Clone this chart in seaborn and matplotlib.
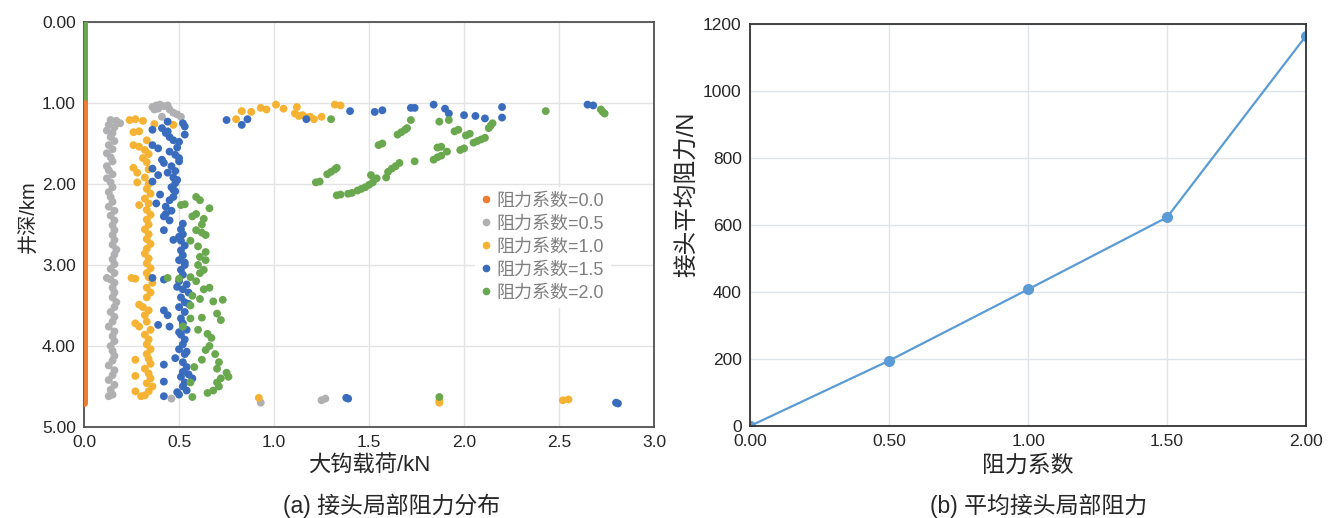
import pandas as pd
import matplotlib
matplotlib.use("Agg")
from matplotlib import pyplot as plt
from matplotlib.lines import Line2D
import seaborn as sns

"""
Joint local resistance: (a) scatter of hook load vs well depth for several
resistance coefficients, (b) mean joint resistance vs coefficient.
"""

# ---- (a) data: hook load (kN) and depth (km) per resistance coefficient ----
zero_x = [0.0, 0.0]
zero_d = [1.0, 4.7]
green_zero_x = [0.0, 0.0]
green_zero_d = [0.0, 1.0]

gray_x = [0.14, 0.17, 0.19, 0.13, 0.16, 0.12, 0.15, 0.14, 0.16, 0.13, 0.15, 0.12, 0.14, 0.15, 0.12,
          0.13, 0.15, 0.12, 0.14, 0.15, 0.13, 0.14, 0.15, 0.13, 0.16, 0.14, 0.16, 0.15, 0.16, 0.15,
          0.16, 0.15, 0.17, 0.16, 0.15, 0.16, 0.14, 0.16, 0.12, 0.14, 0.16, 0.15, 0.16, 0.15, 0.17,
          0.16, 0.14, 0.16, 0.15, 0.13, 0.16, 0.15, 0.16, 0.14, 0.15, 0.16, 0.15, 0.13, 0.16, 0.15,
          0.13, 0.16, 0.14, 0.15, 0.13,
          0.36, 0.38, 0.40, 0.42, 0.37, 0.39, 0.44, 0.45, 0.47, 0.49, 0.51, 0.41,
          0.46, 0.93, 1.25, 1.27]
gray_d = [1.21, 1.22, 1.25, 1.27, 1.30, 1.34, 1.37, 1.42, 1.47, 1.52, 1.57, 1.62, 1.67, 1.72, 1.78,
          1.83, 1.88, 1.93, 1.98, 2.04, 2.10, 2.16, 2.22, 2.28, 2.33, 2.39, 2.45, 2.51, 2.57, 2.63,
          2.69, 2.75, 2.81, 2.87, 2.93, 2.99, 3.05, 3.10, 3.16, 3.18, 3.22, 3.28, 3.34, 3.40, 3.46,
          3.52, 3.58, 3.64, 3.70, 3.76, 3.82, 3.88, 3.94, 4.00, 4.06, 4.12, 4.18, 4.24, 4.30, 4.36,
          4.42, 4.48, 4.54, 4.60, 4.62,
          1.05, 1.03, 1.02, 1.04, 1.08, 1.07, 1.03, 1.08, 1.12, 1.14, 1.17, 1.17,
          4.65, 4.70, 4.67, 4.65]

orange_x = [0.24, 0.27, 0.31, 0.37, 0.26, 0.29, 0.33, 0.26, 0.29, 0.32, 0.34, 0.31, 0.33, 0.26, 0.28,
            0.34, 0.32, 0.28, 0.34, 0.33, 0.35, 0.32, 0.29, 0.34, 0.33, 0.35, 0.33, 0.34, 0.32, 0.34,
            0.33, 0.35, 0.33, 0.32, 0.34, 0.33, 0.35, 0.33, 0.25, 0.27, 0.34, 0.36, 0.33, 0.35, 0.33,
            0.29, 0.31, 0.34, 0.32, 0.27, 0.29, 0.33, 0.35, 0.32, 0.34, 0.33, 0.35, 0.33, 0.27, 0.34,
            0.35, 0.32, 0.27, 0.34, 0.35, 0.33, 0.36, 0.27, 0.34, 0.32, 0.30, 0.47,
            0.80, 0.83, 0.88, 0.93, 0.96, 1.01, 1.05, 1.12, 1.11, 1.15, 1.19, 1.21, 1.25, 1.32, 1.35,
            1.13, 1.17,
            0.92, 1.87, 1.87, 2.52, 2.55]
orange_d = [1.21, 1.20, 1.22, 1.26, 1.36, 1.35, 1.46, 1.52, 1.54, 1.58, 1.63, 1.68, 1.73, 1.80, 1.86,
            1.82, 1.92, 1.98, 2.00, 2.06, 2.12, 2.18, 2.26, 2.24, 2.32, 2.38, 2.44, 2.50, 2.56, 2.62,
            2.68, 2.74, 2.80, 2.86, 2.92, 2.98, 3.04, 3.10, 3.16, 3.17, 3.15, 3.22, 3.28, 3.34, 3.40,
            3.49, 3.52, 3.56, 3.62, 3.72, 3.76, 3.70, 3.80, 3.86, 3.92, 3.98, 4.04, 4.10, 4.17, 4.16,
            4.22, 4.28, 4.37, 4.34, 4.40, 4.46, 4.50, 4.56, 4.56, 4.61, 4.62, 1.27,
            1.20, 1.10, 1.11, 1.06, 1.08, 1.02, 1.07, 1.05, 1.13, 1.15, 1.17, 1.20, 1.17, 1.02, 1.03,
            1.16, 1.18,
            4.64, 4.70, 4.68, 4.67, 4.66]

blue_x = [0.44, 0.52, 0.53, 0.36, 0.41, 0.43, 0.53, 0.45, 0.47, 0.50, 0.36, 0.39, 0.45, 0.48, 0.50,
          0.42, 0.46, 0.36, 0.48, 0.39, 0.47, 0.36, 0.48, 0.46, 0.48, 0.40, 0.47, 0.45, 0.38, 0.43,
          0.46, 0.42, 0.45, 0.52, 0.42, 0.51, 0.52, 0.47, 0.51, 0.53, 0.51, 0.52, 0.50, 0.53, 0.51,
          0.52, 0.36, 0.42, 0.50, 0.54, 0.52, 0.55, 0.51, 0.53, 0.50, 0.42, 0.53, 0.44, 0.51, 0.39,
          0.45, 0.52, 0.54, 0.51, 0.53, 0.52, 0.50, 0.53, 0.48, 0.52, 0.42, 0.54, 0.52, 0.55, 0.57,
          0.42, 0.53, 0.52, 0.49, 0.54, 0.42, 0.50,
          0.44, 0.49, 0.41, 0.50, 0.44, 0.49, 0.47, 0.43, 0.50, 0.53, 0.49, 0.55, 0.50, 0.54, 0.51,
          0.75, 0.83, 0.86, 1.17, 1.40, 1.53, 1.57, 1.72, 1.74, 1.84, 1.90, 1.92, 2.00, 2.06, 2.11,
          2.20, 2.20, 2.65, 2.68,
          1.38, 1.39, 2.80, 2.81]
blue_d = [1.23, 1.25, 1.29, 1.33, 1.31, 1.37, 1.39, 1.42, 1.46, 1.48, 1.52, 1.56, 1.60, 1.64, 1.68,
          1.74, 1.78, 1.81, 1.84, 1.89, 1.92, 1.97, 1.99, 2.04, 2.09, 2.13, 2.16, 2.20, 2.24, 2.28,
          2.33, 2.40, 2.45, 2.49, 2.57, 2.56, 2.62, 2.69, 2.70, 2.76, 2.82, 2.88, 2.94, 3.00, 3.06,
          3.12, 3.16, 3.18, 3.20, 3.24, 3.30, 3.34, 3.40, 3.46, 3.52, 3.56, 3.58, 3.62, 3.66, 3.74,
          3.76, 3.72, 3.80, 3.86, 3.92, 3.98, 4.04, 4.10, 4.15, 4.20, 4.23, 4.26, 4.32, 4.35, 4.40,
          4.44, 4.45, 4.50, 4.57, 4.55, 4.62, 4.60,
          1.35, 1.55, 1.70, 1.72, 1.86, 1.95, 2.07, 2.37, 2.65, 2.97, 3.27, 3.48, 3.83, 4.07, 4.38,
          1.21, 1.27, 1.20, 1.20, 1.10, 1.11, 1.09, 1.06, 1.06, 1.02, 1.07, 1.13, 1.15, 1.16, 1.19,
          1.05, 1.18, 1.02, 1.03,
          4.64, 4.65, 4.70, 4.71]

green_x = [0.51, 0.53, 0.59, 0.61, 0.66, 0.57, 0.59, 0.63, 0.62, 0.59, 0.62, 0.64, 0.56, 0.60, 0.64,
           0.61, 0.64, 0.60, 0.63, 0.61, 0.44, 0.50, 0.56, 0.59, 0.66, 0.63, 0.57, 0.61, 0.68, 0.73,
           0.56, 0.70, 0.62, 0.56, 0.72, 0.52, 0.60, 0.65, 0.67, 0.66, 0.64, 0.69, 0.62, 0.71, 0.58,
           0.70, 0.75, 0.76, 0.72, 0.56, 0.70, 0.71, 0.68, 0.65, 0.57,
           1.22, 1.24, 1.28, 1.30, 1.32, 1.33, 1.33, 1.35, 1.39, 1.41, 1.44, 1.46, 1.48, 1.50, 1.52,
           1.54, 1.51, 1.59, 1.60, 1.62, 1.64, 1.66, 1.74, 1.55, 1.57, 1.84, 1.86, 1.88, 1.91, 1.86,
           1.88, 1.98, 2.00, 2.05, 2.07, 2.09, 2.11, 1.95, 1.97, 2.01, 2.03, 1.65, 1.67, 1.69, 1.70,
           1.72, 1.87, 1.92, 2.13, 2.14, 2.15, 1.30, 2.43, 2.72, 2.73, 2.74,
           1.87]
green_d = [2.26, 2.25, 2.16, 2.20, 2.30, 2.40, 2.37, 2.43, 2.50, 2.57, 2.60, 2.63, 2.70, 2.77, 2.84,
           2.90, 2.94, 3.00, 3.06, 3.10, 3.16, 3.17, 3.15, 3.20, 3.28, 3.30, 3.38, 3.42, 3.45, 3.43,
           3.50, 3.60, 3.65, 3.66, 3.68, 3.76, 3.80, 3.85, 3.90, 4.00, 4.05, 4.10, 4.17, 4.20, 4.26,
           4.28, 4.33, 4.38, 4.40, 4.45, 4.45, 4.50, 4.55, 4.58, 4.63,
           1.98, 1.97, 1.88, 1.85, 1.82, 1.80, 2.14, 2.13, 2.12, 2.11, 2.08, 2.06, 2.04, 2.01, 1.98,
           1.93, 1.89, 1.92, 1.85, 1.81, 1.78, 1.74, 1.72, 1.52, 1.50, 1.70, 1.67, 1.65, 1.60, 1.55,
           1.54, 1.58, 1.56, 1.49, 1.47, 1.45, 1.43, 1.35, 1.33, 1.40, 1.38, 1.39, 1.36, 1.33, 1.31,
           1.21, 1.23, 1.21, 1.31, 1.28, 1.25, 1.20, 1.10, 1.08, 1.11, 1.13,
           4.63]

series_labels = ["阻力系数=0.0", "阻力系数=0.5", "阻力系数=1.0", "阻力系数=1.5", "阻力系数=2.0"]
colors = ["#ED7D31", "#B0B0B2", "#F6B333", "#3A6CBE", "#6AA84F"]

# ---- (b) data ----
coef = [0.0, 0.5, 1.0, 1.5, 2.0]
mean_res = [0, 195, 408, 623, 1165]


def build_frame():
    parts = []
    for lab, xs, ds in zip(series_labels[1:], [gray_x, orange_x, blue_x, green_x],
                           [gray_d, orange_d, blue_d, green_d]):
        parts.append(pd.DataFrame({"load": xs, "depth": ds, "series": lab}))
    return pd.concat(parts, ignore_index=True)


def main():
    sns.set_style("white")
    plt.rcParams["font.family"] = ["Liberation Sans", "Noto Sans CJK SC"]
    plt.rcParams["axes.unicode_minus"] = False

    fig = plt.figure(figsize=(13.28, 5.18), dpi=100)
    ax1 = fig.add_axes([0.0633, 0.1757, 0.4292, 0.7818])
    ax2 = fig.add_axes([0.5648, 0.1776, 0.4187, 0.7760])

    # --- left chart ---
    df = build_frame()
    pal = dict(zip(series_labels, colors))
    ax1.plot(green_zero_x, green_zero_d, color=colors[4], lw=5, solid_capstyle="round", zorder=3)
    ax1.plot(zero_x, zero_d, color=colors[0], lw=5, solid_capstyle="round", zorder=3)
    sns.scatterplot(data=df, x="load", y="depth", hue="series", palette=pal,
                    hue_order=series_labels[1:], s=32, linewidth=0, legend=False, ax=ax1, zorder=4)
    ax1.set_xlim(0, 3.0)
    ax1.set_ylim(5.0, 0.0)
    ax1.set_xticks([0, 0.5, 1.0, 1.5, 2.0, 2.5, 3.0])
    ax1.set_xticklabels([f"{v:.1f}" for v in [0, 0.5, 1.0, 1.5, 2.0, 2.5, 3.0]])
    ax1.set_yticks([0, 1, 2, 3, 4, 5])
    ax1.set_yticklabels([f"{v:.2f}" for v in [0, 1, 2, 3, 4, 5]])
    ax1.grid(True, color="#e3e3e3", lw=1.0)
    ax1.set_axisbelow(True)
    for sp in ax1.spines.values():
        sp.set_color("#505050")
        sp.set_linewidth(1.3)
    ax1.tick_params(labelsize=12.5, colors="#262626", length=0, pad=6)
    ax1.set_xlabel("大钩载荷/kN", fontsize=16, color="#262626", labelpad=3)
    ax1.set_ylabel("井深/km", fontsize=14.5, color="#262626", labelpad=6)
    ax1.yaxis.set_label_coords(-0.08, 0.52)

    handles = [Line2D([], [], marker="o", ls="", color=c, markersize=4.5) for c in colors]
    leg = ax1.legend(handles, series_labels, loc="upper left", bbox_to_anchor=(0.67, 0.615),
                     frameon=True, framealpha=1, edgecolor="white", facecolor="white",
                     fontsize=13, labelcolor="#7f7f7f", handlelength=0.6, handletextpad=0.3,
                     labelspacing=0.33, borderpad=0.3)
    leg.set_zorder(5)

    # --- right chart ---
    sns.lineplot(x=coef, y=mean_res, ax=ax2, color="#5B9BD5", lw=1.6, marker="o",
                 markersize=8, markeredgewidth=0)
    ax2.set_xlim(0, 2.0)
    ax2.set_ylim(0, 1200)
    ax2.set_xticks([0, 0.5, 1.0, 1.5, 2.0])
    ax2.set_xticklabels([f"{v:.2f}" for v in [0, 0.5, 1.0, 1.5, 2.0]])
    ax2.set_yticks(range(0, 1201, 200))
    ax2.grid(True, color="#dfe4ea", lw=1.0)
    ax2.set_axisbelow(True)
    for sp in ax2.spines.values():
        sp.set_color("#333333")
        sp.set_linewidth(1.3)
    ax2.tick_params(labelsize=12.5, colors="#262626", length=0, pad=6)
    ax2.set_xlabel("阻力系数", fontsize=16.5, color="#262626", labelpad=3)
    ax2.set_ylabel("接头平均阻力/N", fontsize=17, color="#262626", labelpad=4)
    ax2.yaxis.set_label_coords(-0.092, 0.575)

    fig.text(0.295, 0.023, "(a) 接头局部阻力分布", ha="center", va="center", fontsize=16.5,
             color="#262626")
    fig.text(0.782, 0.023, "(b) 平均接头局部阻力", ha="center", va="center", fontsize=16.5,
             color="#262626")

    fig.savefig("out.png", dpi=100, facecolor="white")


if __name__ == "__main__":
    main()
